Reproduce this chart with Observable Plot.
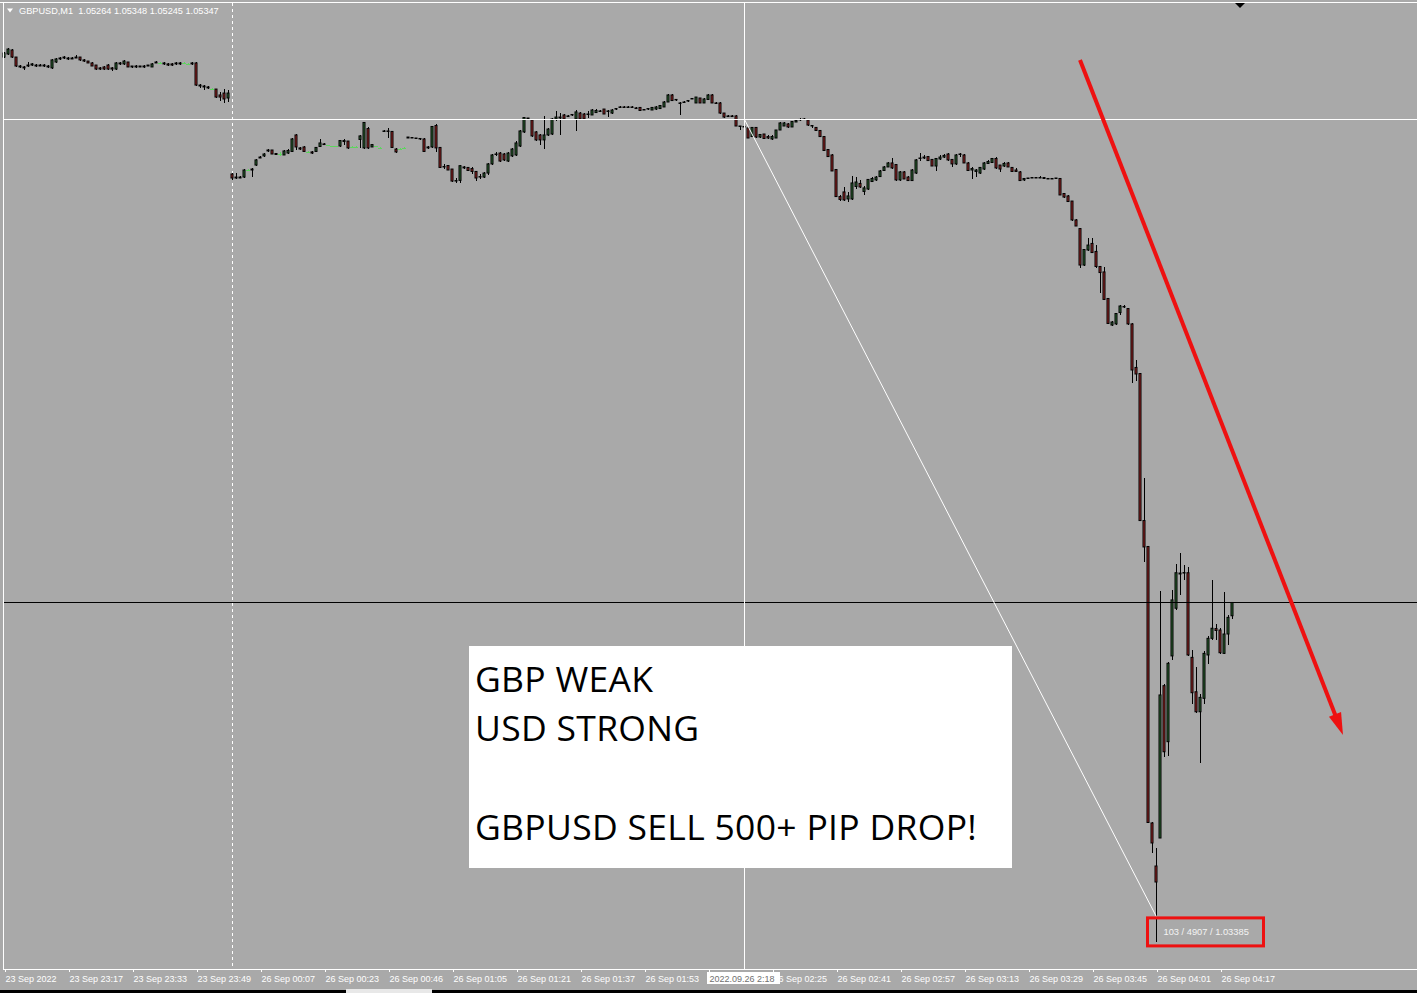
<!DOCTYPE html>
<html>
<head>
<meta charset="utf-8">
<script src="https://cdn.jsdelivr.net/npm/d3@7"></script>
<script src="https://cdn.jsdelivr.net/npm/@observablehq/plot@0.6"></script>
<style>
  html, body { margin: 0; padding: 0; background: #a9a9a9; overflow: hidden; }
  #chart svg { display: block; }
</style>
</head>
<body>
<div id="chart"></div>
<script>
// ---------------- DATA (GBPUSD M1, one value per bar) ----------------
const symbol = "GBPUSD,M1";

const open = [
1.08756,1.08775,1.08800,1.08756,1.08700,1.08694,1.08700,1.08706,1.08706,1.08706,
1.08700,1.08700,1.08688,1.08725,1.08744,1.08750,1.08750,1.08744,1.08750,1.08756,
1.08738,1.08731,1.08719,1.08706,1.08688,1.08694,1.08706,1.08688,1.08681,1.08713,
1.08713,1.08725,1.08700,1.08700,1.08700,1.08694,1.08700,1.08694,1.08719,1.08719,
1.08719,1.08713,1.08713,1.08713,1.08713,1.08719,1.08713,1.08713,1.08719,1.08581,
1.08575,1.08569,1.08556,1.08556,1.08519,1.08531,1.08500,1.08025,1.08006,1.08000,
1.08006,1.08050,1.08050,1.08081,1.08125,1.08138,1.08169,1.08175,1.08153,1.08150,
1.08144,1.08156,1.08166,1.08269,1.08188,1.08194,1.08163,1.08163,1.08166,1.08197,
1.08213,1.08206,1.08200,1.08200,1.08200,1.08228,1.08231,1.08194,1.08194,1.08241,
1.08188,1.08309,1.08194,1.08200,1.08188,1.08291,1.08294,1.08291,1.08181,1.08184,
1.08188,1.08250,1.08253,1.08250,1.08247,1.08244,1.08188,1.08194,1.08328,1.08191,
1.08072,1.08078,1.08056,1.07981,1.07985,1.08069,1.08066,1.08059,1.08041,1.08006,
1.08006,1.08031,1.08088,1.08147,1.08156,1.08150,1.08106,1.08138,1.08144,1.08200,
1.08288,1.08375,1.08363,1.08288,1.08269,1.08238,1.08269,1.08275,1.08369,1.08381,
1.08394,1.08384,1.08394,1.08369,1.08406,1.08400,1.08397,1.08394,1.08409,1.08416,
1.08431,1.08416,1.08406,1.08431,1.08441,1.08444,1.08441,1.08444,1.08438,1.08441,
1.08425,1.08431,1.08425,1.08431,1.08434,1.08444,1.08475,1.08519,1.08488,1.08466,
1.08472,1.08481,1.08494,1.08469,1.08500,1.08469,1.08491,1.08519,1.08469,1.08469,
1.08406,1.08384,1.08388,1.08388,1.08322,1.08322,1.08313,1.08259,1.08316,1.08256,
1.08275,1.08259,1.08244,1.08250,1.08300,1.08325,1.08338,1.08319,1.08350,1.08363,
1.08366,1.08363,1.08328,1.08316,1.08297,1.08259,1.08178,1.08144,1.08053,1.07884,
1.07913,1.07869,1.07869,1.07947,1.07966,1.07916,1.07931,1.07978,1.07988,1.08009,
1.08047,1.08069,1.08094,1.08084,1.07988,1.08038,1.08006,1.07984,1.08031,1.08122,
1.08125,1.08134,1.08116,1.08075,1.08119,1.08131,1.08150,1.08116,1.08088,1.08147,
1.08144,1.08094,1.08050,1.08041,1.08031,1.08056,1.08091,1.08097,1.08122,1.08081,
1.08075,1.08094,1.08066,1.08050,1.08038,1.07988,1.07997,1.08000,1.08003,1.08000,
1.08003,1.07997,1.07994,1.07997,1.07997,1.07903,1.07888,1.07856,1.07738,1.07684,
1.07456,1.07550,1.07591,1.07541,1.07447,1.07413,1.07247,1.07081,1.07088,1.07159,
1.07194,1.07184,1.07088,1.06816,1.06778,1.05859,1.05697,1.03969,1.03700,1.03875,
1.04827,1.04477,1.05013,1.05311,1.05525,1.05531,1.05533,1.05004,1.04789,1.04664,
1.04748,1.05019,1.05123,1.05184,1.05175,1.05029,1.05150,1.05264];

const high = [
1.08788,1.08813,1.08806,1.08756,1.08706,1.08700,1.08725,1.08719,1.08713,1.08713,
1.08713,1.08706,1.08744,1.08750,1.08756,1.08763,1.08756,1.08756,1.08769,1.08759,
1.08741,1.08734,1.08722,1.08709,1.08694,1.08700,1.08713,1.08694,1.08725,1.08725,
1.08738,1.08728,1.08703,1.08706,1.08703,1.08706,1.08709,1.08719,1.08731,1.08725,
1.08722,1.08719,1.08716,1.08722,1.08722,1.08722,1.08719,1.08725,1.08722,1.08588,
1.08581,1.08575,1.08563,1.08559,1.08538,1.08556,1.08550,1.08031,1.08031,1.08013,
1.08056,1.08056,1.08063,1.08119,1.08138,1.08156,1.08181,1.08178,1.08156,1.08163,
1.08175,1.08181,1.08250,1.08272,1.08194,1.08197,1.08169,1.08166,1.08194,1.08244,
1.08216,1.08209,1.08203,1.08203,1.08238,1.08244,1.08234,1.08197,1.08197,1.08269,
1.08350,1.08319,1.08213,1.08203,1.08191,1.08297,1.08313,1.08294,1.08188,1.08188,
1.08191,1.08259,1.08256,1.08253,1.08250,1.08247,1.08200,1.08325,1.08338,1.08194,
1.08088,1.08081,1.08059,1.08000,1.08081,1.08075,1.08069,1.08069,1.08044,1.08025,
1.08038,1.08094,1.08150,1.08163,1.08163,1.08156,1.08163,1.08188,1.08231,1.08300,
1.08381,1.08378,1.08369,1.08294,1.08275,1.08388,1.08313,1.08375,1.08419,1.08406,
1.08400,1.08394,1.08400,1.08425,1.08413,1.08406,1.08419,1.08431,1.08431,1.08425,
1.08434,1.08425,1.08431,1.08438,1.08450,1.08447,1.08447,1.08447,1.08441,1.08444,
1.08431,1.08438,1.08444,1.08450,1.08456,1.08481,1.08525,1.08525,1.08494,1.08475,
1.08481,1.08488,1.08500,1.08509,1.08503,1.08500,1.08525,1.08522,1.08472,1.08472,
1.08409,1.08394,1.08394,1.08391,1.08328,1.08325,1.08316,1.08319,1.08319,1.08275,
1.08278,1.08266,1.08266,1.08303,1.08350,1.08350,1.08344,1.08356,1.08369,1.08372,
1.08372,1.08366,1.08331,1.08319,1.08300,1.08263,1.08181,1.08147,1.08056,1.07894,
1.07944,1.07913,1.08013,1.08008,1.07988,1.07950,1.07994,1.08006,1.08013,1.08050,
1.08075,1.08100,1.08122,1.08088,1.08044,1.08044,1.08013,1.08056,1.08119,1.08158,
1.08144,1.08138,1.08119,1.08125,1.08144,1.08150,1.08156,1.08119,1.08150,1.08156,
1.08153,1.08097,1.08069,1.08056,1.08069,1.08100,1.08113,1.08125,1.08131,1.08084,
1.08100,1.08100,1.08069,1.08063,1.08041,1.08000,1.08003,1.08009,1.08006,1.08013,
1.08006,1.08000,1.08000,1.08003,1.08000,1.07906,1.07891,1.07859,1.07741,1.07688,
1.07556,1.07625,1.07628,1.07581,1.07450,1.07442,1.07250,1.07106,1.07156,1.07206,
1.07206,1.07188,1.07094,1.06863,1.06781,1.06125,1.05703,1.03975,1.03813,1.05421,
1.04838,1.04975,1.05425,1.05588,1.05654,1.05581,1.05571,1.05050,1.04942,1.04775,
1.05044,1.05138,1.05488,1.05213,1.05188,1.05414,1.05269,1.05348];

const low = [
1.08750,1.08769,1.08750,1.08694,1.08688,1.08675,1.08694,1.08700,1.08694,1.08697,
1.08694,1.08688,1.08684,1.08719,1.08738,1.08744,1.08738,1.08741,1.08747,1.08731,
1.08725,1.08716,1.08697,1.08675,1.08678,1.08675,1.08678,1.08669,1.08678,1.08706,
1.08706,1.08691,1.08688,1.08688,1.08691,1.08688,1.08697,1.08691,1.08716,1.08716,
1.08709,1.08703,1.08703,1.08709,1.08709,1.08716,1.08706,1.08709,1.08578,1.08563,
1.08550,1.08556,1.08550,1.08503,1.08481,1.08469,1.08475,1.07988,1.07994,1.07997,
1.07997,1.08047,1.08006,1.08078,1.08122,1.08131,1.08163,1.08147,1.08144,1.08138,
1.08141,1.08150,1.08163,1.08175,1.08178,1.08163,1.08159,1.08150,1.08163,1.08194,
1.08206,1.08203,1.08197,1.08197,1.08194,1.08206,1.08181,1.08191,1.08191,1.08188,
1.08184,1.08181,1.08191,1.08197,1.08184,1.08288,1.08250,1.08188,1.08156,1.08181,
1.08184,1.08247,1.08247,1.08244,1.08238,1.08163,1.08181,1.08188,1.08163,1.08063,
1.08056,1.08047,1.07975,1.07969,1.07969,1.08056,1.08044,1.08025,1.07981,1.07994,
1.08000,1.08019,1.08081,1.08138,1.08100,1.08106,1.08100,1.08131,1.08138,1.08194,
1.08284,1.08366,1.08256,1.08231,1.08206,1.08181,1.08263,1.08269,1.08356,1.08269,
1.08363,1.08381,1.08388,1.08294,1.08366,1.08363,1.08375,1.08391,1.08406,1.08413,
1.08397,1.08381,1.08403,1.08428,1.08438,1.08438,1.08438,1.08438,1.08431,1.08419,
1.08422,1.08428,1.08422,1.08428,1.08431,1.08441,1.08472,1.08481,1.08481,1.08394,
1.08469,1.08478,1.08491,1.08466,1.08466,1.08466,1.08488,1.08466,1.08463,1.08403,
1.08375,1.08381,1.08381,1.08322,1.08300,1.08313,1.08247,1.08256,1.08253,1.08250,
1.08244,1.08244,1.08238,1.08247,1.08297,1.08322,1.08313,1.08316,1.08347,1.08359,
1.08363,1.08328,1.08313,1.08294,1.08256,1.08169,1.08131,1.08041,1.07881,1.07859,
1.07856,1.07853,1.07863,1.07931,1.07938,1.07894,1.07925,1.07975,1.07981,1.08006,
1.08044,1.08066,1.08056,1.07984,1.07984,1.07991,1.07981,1.07981,1.08028,1.08106,
1.08119,1.08106,1.08072,1.08046,1.08113,1.08125,1.08106,1.08069,1.08084,1.08131,
1.08091,1.08044,1.07994,1.08008,1.08028,1.08053,1.08088,1.08094,1.08059,1.08038,
1.08069,1.08066,1.08038,1.08038,1.07981,1.07981,1.07994,1.07997,1.07997,1.07997,
1.07994,1.07991,1.07991,1.07994,1.07891,1.07875,1.07850,1.07734,1.07697,1.07438,
1.07453,1.07541,1.07531,1.07438,1.07284,1.07238,1.07088,1.07075,1.07084,1.07144,
1.07188,1.07084,1.06719,1.06734,1.05856,1.05600,1.03969,1.03781,1.03225,1.03872,
1.04381,1.04388,1.04988,1.05300,1.05394,1.05488,1.05013,1.04713,1.04656,1.04342,
1.04713,1.04963,1.05113,1.05113,1.05025,1.05025,1.05081,1.05245];

const close = [
1.08781,1.08806,1.08756,1.08700,1.08694,1.08688,1.08706,1.08713,1.08700,1.08700,
1.08706,1.08694,1.08738,1.08744,1.08750,1.08756,1.08744,1.08750,1.08756,1.08738,
1.08731,1.08719,1.08700,1.08681,1.08681,1.08681,1.08681,1.08681,1.08719,1.08719,
1.08731,1.08694,1.08694,1.08694,1.08694,1.08700,1.08706,1.08713,1.08725,1.08719,
1.08713,1.08706,1.08706,1.08719,1.08719,1.08719,1.08713,1.08719,1.08581,1.08575,
1.08569,1.08563,1.08556,1.08506,1.08506,1.08494,1.08531,1.08000,1.08000,1.08006,
1.08050,1.08050,1.08056,1.08113,1.08131,1.08150,1.08175,1.08150,1.08147,1.08150,
1.08169,1.08172,1.08244,1.08194,1.08181,1.08166,1.08163,1.08156,1.08191,1.08219,
1.08209,1.08206,1.08200,1.08200,1.08234,1.08234,1.08188,1.08194,1.08194,1.08263,
1.08347,1.08188,1.08209,1.08200,1.08188,1.08294,1.08291,1.08191,1.08163,1.08184,
1.08188,1.08256,1.08250,1.08247,1.08244,1.08166,1.08194,1.08322,1.08188,1.08066,
1.08069,1.08050,1.07981,1.07984,1.08077,1.08063,1.08047,1.08041,1.08000,1.08009,
1.08031,1.08088,1.08144,1.08150,1.08106,1.08113,1.08156,1.08181,1.08219,1.08294,
1.08378,1.08369,1.08263,1.08238,1.08238,1.08269,1.08306,1.08369,1.08381,1.08375,
1.08369,1.08388,1.08397,1.08413,1.08369,1.08369,1.08400,1.08425,1.08422,1.08419,
1.08400,1.08419,1.08425,1.08434,1.08444,1.08441,1.08444,1.08441,1.08434,1.08422,
1.08428,1.08434,1.08441,1.08444,1.08453,1.08475,1.08519,1.08484,1.08491,1.08469,
1.08475,1.08484,1.08497,1.08506,1.08469,1.08494,1.08519,1.08469,1.08466,1.08406,
1.08381,1.08388,1.08384,1.08325,1.08325,1.08319,1.08250,1.08316,1.08256,1.08272,
1.08247,1.08250,1.08259,1.08300,1.08344,1.08344,1.08319,1.08353,1.08359,1.08366,
1.08369,1.08331,1.08325,1.08297,1.08259,1.08172,1.08134,1.08044,1.07884,1.07866,
1.07863,1.07888,1.07969,1.07975,1.07944,1.07938,1.07991,1.07997,1.08006,1.08044,
1.08069,1.08094,1.08063,1.07988,1.08038,1.07994,1.07984,1.08050,1.08113,1.08125,
1.08131,1.08109,1.08075,1.08122,1.08131,1.08141,1.08113,1.08088,1.08144,1.08150,
1.08094,1.08047,1.08059,1.08050,1.08066,1.08094,1.08103,1.08122,1.08063,1.08056,
1.08091,1.08069,1.08041,1.08041,1.07984,1.07997,1.08000,1.08003,1.08000,1.08003,
1.07997,1.07994,1.07997,1.08000,1.07894,1.07881,1.07853,1.07738,1.07700,1.07456,
1.07553,1.07581,1.07534,1.07447,1.07409,1.07241,1.07091,1.07100,1.07153,1.07200,
1.07197,1.07088,1.06800,1.06775,1.05859,1.05694,1.03972,1.03844,1.03600,1.04769,
1.04414,1.04967,1.05363,1.05533,1.05531,1.05534,1.05019,1.04783,1.04664,1.04754,
1.05029,1.05123,1.05186,1.05172,1.05033,1.05150,1.05254,1.05347];

// time axis: every 16th bar carries a label ("" = hidden under the crosshair time box)
const tickBars = [0,16,32,48,64,80,96,112,128,144,160,176,192,208,224,240,256,272,288,304];
const tickLabels = ["23 Sep 2022","23 Sep 23:17","23 Sep 23:33","23 Sep 23:49","26 Sep 00:07",
  "26 Sep 00:23","26 Sep 00:46","26 Sep 01:05","26 Sep 01:21","26 Sep 01:37","26 Sep 01:53",
  "","26 Sep 02:25","26 Sep 02:41","26 Sep 02:57","26 Sep 03:13","26 Sep 03:29",
  "26 Sep 03:45","26 Sep 04:01","26 Sep 04:17"];

// annotations
const daySeparatorBar = 57;
const crossBar = 185, crossPrice = 1.08369, crossTime = "2022.09.26 2:18";
const measureBar = 288, measurePrice = 1.03385, measureBars = 103, measurePoints = 4907;
const arrowFrom = [269, 1.08738];
const arrowTo = [334.75, 1.04519];
const noteLines = ["GBP WEAK", "USD STRONG", "", "GBPUSD SELL 500+ PIP DROP!"];

// ---------------- STYLE ----------------
const W = 1417, H = 993;
const BG = "#a9a9a9", BULL = "#2f6b35", BEAR = "#a42828", DOJI = "#5fd45f", RED = "#ee1111";

const bars = open.map((o, i) => ({i, o, h: high[i], l: low[i], c: close[i]}));
const bodies = bars.filter(d => d.o !== d.c);
const dojis = bars.filter(d => d.o === d.c);
const last = bars[bars.length - 1];
const labelOf = new Map(tickBars.map((b, k) => [b, tickLabels[k]]));

const plot = Plot.plot({
  width: W, height: H,
  marginLeft: 3, marginTop: 3, marginRight: 0, marginBottom: 24,
  style: {background: BG, color: "white", fontFamily: "'Liberation Sans', Arial, sans-serif", fontSize: "9px"},
  x: {domain: [-0.25, 353.25], range: [3, W], label: null},
  y: {domain: [1.0305625, 1.0909375], range: [969, 3], axis: null, label: null},
  marks: [
    Plot.ruleX([daySeparatorBar], {x: d => d, stroke: "white", strokeDasharray: "3,3"}),
    Plot.axisX({ticks: tickBars, tickFormat: d => labelOf.get(d), tickSize: 3, tickPadding: 3,
                textAnchor: "start", dx: 1, fontSize: 9, stroke: "white", fill: "white"}),
    // wicks
    Plot.ruleX(bars, {x: "i", y1: d => Math.min(d.l, d.o, d.c), y2: d => Math.max(d.h, d.o, d.c),
                      stroke: d => d.o === d.c ? DOJI : "black", shapeRendering: "crispEdges"}),
    // bodies
    Plot.rect(bodies, {x1: d => d.i - 0.25, x2: d => d.i + 0.25, y1: "o", y2: "c",
                       fill: d => d.c > d.o ? BULL : BEAR, stroke: "black", strokeWidth: 1}),
    // doji bars
    Plot.ruleY(dojis, {y: "c", x1: d => d.i - 0.6, x2: d => d.i + 0.6, stroke: DOJI, shapeRendering: "crispEdges"}),
    // bid line
    Plot.ruleY([last.c], {y: d => d, stroke: "black", shapeRendering: "crispEdges"}),
    // crosshair
    Plot.ruleX([crossBar], {x: d => d, stroke: "white", shapeRendering: "crispEdges"}),
    Plot.ruleY([crossPrice], {y: d => d, stroke: "white", shapeRendering: "crispEdges"}),
    // measure line
    Plot.link([0], {x1: () => crossBar, y1: () => crossPrice, x2: () => measureBar, y2: () => measurePrice,
                    stroke: "white", strokeWidth: 1})
  ]
});

const host = document.getElementById("chart");
host.appendChild(plot);
const svg = d3.select(plot);
const sx = plot.scale("x").apply, sy = plot.scale("y").apply;

const g = svg.append("g").attr("text-anchor", "start").attr("font-family", "'Liberation Sans', Arial, sans-serif");
// window chrome: frame lines
g.append("line").attr("x1", 0).attr("x2", W).attr("y1", 2.5).attr("y2", 2.5).attr("stroke", "white");
g.append("line").attr("x1", 3.5).attr("x2", 3.5).attr("y1", 2).attr("y2", 970).attr("stroke", "white");
g.append("line").attr("x1", 3).attr("x2", W).attr("y1", 969.5).attr("y2", 969.5).attr("stroke", "white");
g.append("rect").attr("x", 0).attr("y", 990).attr("width", W).attr("height", 3).attr("fill", "black");
g.append("rect").attr("x", 346).attr("y", 989).attr("width", 86).attr("height", 4).attr("fill", "#e8e8e8");
// chart-shift marker
g.append("path").attr("d", "M1235,3 L1245,3 L1240,8 Z").attr("fill", "black");

// header
g.append("path").attr("d", "M7,8.5 L13,8.5 L10,12.5 Z").attr("fill", "white");
g.append("text").attr("x", 19).attr("y", 14).attr("fill", "white")
  .attr("font-size", 9.2).style("white-space", "pre")
  .text(`${symbol}  ${last.o.toFixed(5)} ${last.h.toFixed(5)} ${last.l.toFixed(5)} ${last.c.toFixed(5)}`);

// crosshair time label on axis (covers the hidden label and the start of the next)
const cx = sx(crossBar) + 0.5;
g.append("rect").attr("x", cx - 37.5).attr("y", 972).attr("width", 73).attr("height", 12).attr("fill", "white");
g.append("text").attr("x", cx - 35).attr("y", 982).attr("fill", "#707070").attr("font-size", 9).text(crossTime);

// measure box
const mx = sx(measureBar) + 0.5, my = sy(measurePrice);
g.append("rect").attr("x", mx - 9).attr("y", my + 1.5).attr("width", 116).attr("height", 28)
  .attr("fill", "none").attr("stroke", RED).attr("stroke-width", 3);
g.append("text").attr("x", mx + 7).attr("y", my + 18.5).attr("fill", "#f4f4f4").attr("font-size", 9.3)
  .text(`${measureBars} / ${measurePoints} / ${measurePrice.toFixed(5)}`);

// note box
g.append("rect").attr("x", 469).attr("y", 646).attr("width", 543).attr("height", 222).attr("fill", "white");
noteLines.forEach((t, k) => {
  if (!t) return;
  g.append("text").attr("x", 475).attr("y", 692 + k * 49.3).attr("fill", "black")
    .attr("font-family", "'Open Sans', 'Noto Sans', sans-serif").attr("font-size", 35.5)
    .attr("letter-spacing", 0.3).text(t);
});

// red arrow
const ax1 = sx(arrowFrom[0]), ay1 = sy(arrowFrom[1]);
const ax2 = sx(arrowTo[0]), ay2 = sy(arrowTo[1]);
const len = Math.hypot(ax2 - ax1, ay2 - ay1), ux = (ax2 - ax1) / len, uy = (ay2 - ay1) / len;
const hl = 22, hw = 6.5;
const bx = ax2 - ux * hl, by = ay2 - uy * hl;
g.append("line").attr("x1", ax1).attr("y1", ay1).attr("x2", bx + ux * 2).attr("y2", by + uy * 2)
  .attr("stroke", RED).attr("stroke-width", 4);
g.append("path").attr("d", `M${ax2},${ay2} L${bx - uy * hw},${by + ux * hw} L${bx + uy * hw},${by - ux * hw} Z`)
  .attr("fill", RED);
</script>
</body>
</html>
